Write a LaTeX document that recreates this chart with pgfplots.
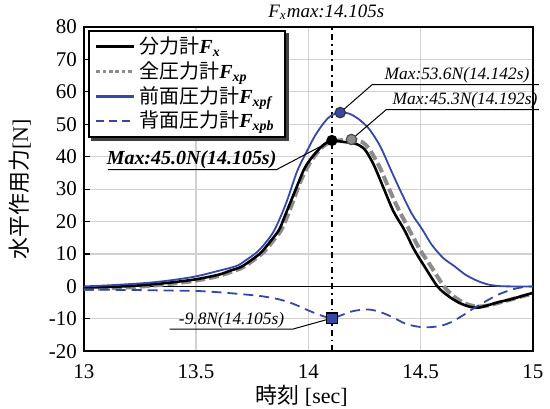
\documentclass[border=0pt]{standalone}
\usepackage{fontspec}
\setmainfont{Liberation Serif}
\newfontfamily\jp{Noto Sans CJK JP}
\usepackage{pgfplots}
\pgfplotsset{compat=1.18}
\definecolor{bl}{RGB}{52,72,168}
\definecolor{gr}{RGB}{140,140,140}
\newcommand\F[1]{\textbf{\textit{F}}\textsubscript{\textbf{\textit{#1}}}}
\newcommand\legtxt[1]{\makebox[68pt][l]{#1}}
\begin{document}
\begin{tikzpicture}
\begin{axis}[
 scale only axis, width=225pt, height=162.5pt,
 xmin=13, xmax=15, ymin=-20, ymax=80,
 xtick={13,13.5,14,14.5,15}, ytick={-20,-10,...,80},
 grid=major, major grid style={draw=black!18, line width=0.6pt},
 axis line style={line width=1.1pt},
 tick style={black, line width=0.6pt}, tick align=inside, major tick length=3pt,
 xtick style={draw=none}, ytick pos=left,
 ticklabel style={font=\fontsize{10.5}{12}\selectfont},
 /pgf/number format/assume math mode=true,
 xticklabel style={yshift=-3pt},
 xlabel={{\jp 時刻} [sec]},
 ylabel={{\jp 水平作用力}[N]},
 xlabel style={at={(axis description cs:0.485,-0.137)}, anchor=center, inner sep=0pt},
 ylabel style={at={(axis description cs:-0.142,0.5)}, anchor=center, inner sep=0pt},
 label style={font=\fontsize{11}{13}\selectfont},
 clip=false,
 legend cell align=left,
 legend style={name=leg, at={(rel axis cs:0,1)}, anchor=north west, xshift=2pt, yshift=-1.5pt,
   draw=black, line width=0.9pt, fill=white, inner xsep=3pt, inner ysep=1pt, row sep=-1.5pt,
   font=\fontsize{10}{12}\selectfont},
 legend image code/.code={\draw[#1] (0pt,0pt) -- (19pt,0pt);},
]
% legend entries
\addlegendimage{black, line width=1.3pt}
\addlegendentry{\legtxt{{\jp 分力計}\F{x}}}
\addlegendimage{gr, line width=1.5pt, dash pattern=on 1.8pt off 1.4pt}
\addlegendentry{\legtxt{{\jp 全圧力計}\F{xp}}}
\addlegendimage{bl, line width=1.3pt}
\addlegendentry{\legtxt{{\jp 前面圧力計}\F{xpf}}}
\addlegendimage{bl, line width=1.3pt, dash pattern=on 4pt off 2.5pt}
\addlegendentry{\legtxt{{\jp 背面圧力計}\F{xpb}}}

% zero line and Fx max line
\addplot[black, line width=0.6pt, forget plot] coordinates {(13,0) (15,0)};
\addplot[black, line width=0.6pt, dash pattern=on 3pt off 2pt on 0.8pt off 2pt, forget plot] coordinates {(14.105,-20) (14.105,80)};

% Fxp (total pressure)
\addplot[gr, line width=2pt, dash pattern=on 5pt off 2pt, forget plot, smooth] coordinates {
(13.00,-0.8) (13.10,-0.6) (13.20,-0.3) (13.30,0.2) (13.40,0.9) (13.50,1.8) (13.60,3.2)
(13.70,5.6) (13.75,7.8) (13.80,10.5) (13.84,13.8) (13.88,17.5) (13.92,24.0) (13.96,31.5)
(13.99,36.0) (14.02,39.5) (14.06,42.8) (14.10,44.6) (14.15,45.1) (14.192,45.3) (14.24,44.5)
(14.27,42.5) (14.30,39.0) (14.323,36.0) (14.36,30.0) (14.40,24.0) (14.449,17.5) (14.50,11.0)
(14.545,6.3) (14.604,0.0) (14.65,-3.2) (14.70,-5.3) (14.75,-6.2) (14.80,-5.9) (14.85,-5.0)
(14.90,-4.1) (14.95,-3.1) (15.00,-2.3)};

% Fx
\addplot[black, line width=1.3pt, forget plot, smooth] coordinates {
(13.00,-0.3) (13.10,-0.2) (13.20,0.1) (13.30,0.6) (13.40,1.3) (13.50,2.2) (13.60,3.6)
(13.65,4.8) (13.70,6.0) (13.75,8.3) (13.79,10.5) (13.83,13.8) (13.87,17.5) (13.90,22.5)
(13.95,31.0) (13.98,36.0) (14.00,38.3) (14.03,41.0) (14.07,43.8) (14.105,45.0) (14.15,44.6)
(14.21,44.0) (14.25,42.3) (14.28,39.0) (14.301,36.0) (14.34,29.5) (14.38,23.0) (14.427,17.5)
(14.47,11.5) (14.516,6.3) (14.575,0.0) (14.62,-2.8) (14.67,-5.0) (14.72,-6.3) (14.76,-6.5)
(14.80,-5.8) (14.85,-4.8) (14.90,-4.0) (14.95,-3.0) (15.00,-2.0)};

% Fxpf
\addplot[bl, line width=0.9pt, forget plot, smooth] coordinates {
(13.00,0.0) (13.10,0.3) (13.20,0.7) (13.30,1.2) (13.40,2.0) (13.50,3.1) (13.60,4.8)
(13.68,6.3) (13.72,8.0) (13.77,10.5) (13.81,13.5) (13.85,17.5) (13.90,25.5) (13.95,35.5)
(13.99,41.2) (14.03,46.5) (14.07,50.5) (14.10,52.6) (14.142,53.6) (14.18,53.3) (14.22,51.8)
(14.27,48.6) (14.32,43.2) (14.367,36.0) (14.41,29.5) (14.46,22.5) (14.508,17.5) (14.55,12.8)
(14.60,8.8) (14.649,6.3) (14.70,3.6) (14.75,1.8) (14.80,0.6) (14.85,0.1) (14.90,0.0) (15.00,0.0)};

% Fxpb
\addplot[bl, line width=0.9pt, dash pattern=on 5pt off 3pt, forget plot, smooth] coordinates {
(13.00,-1.0) (13.20,-1.1) (13.40,-1.3) (13.50,-1.4) (13.60,-1.8) (13.72,-2.5) (13.80,-3.1)
(13.87,-4.0) (13.93,-5.3) (13.99,-7.1) (14.05,-8.8) (14.105,-9.8) (14.15,-8.8) (14.20,-7.6)
(14.26,-7.1) (14.30,-7.5) (14.35,-8.7) (14.40,-10.4) (14.44,-11.7) (14.51,-12.6) (14.58,-12.3)
(14.63,-11.2) (14.68,-9.3) (14.74,-6.6) (14.80,-4.2) (14.85,-2.4) (14.91,-0.9) (14.96,-0.2) (15.00,0.0)};

% leader lines
\draw[black, line width=0.5pt] (axis cs:14.142,53.6) -- (axis cs:14.284,62.2) -- (axis cs:15.027,62.2);
\draw[black, line width=0.5pt] (axis cs:14.192,45.3) -- (axis cs:14.347,54.5) -- (axis cs:15.027,54.5);
\draw[black, line width=0.5pt] (axis cs:14.105,45.0) -- (axis cs:13.858,36.0) -- (axis cs:13.107,36.0);
\draw[black, line width=0.5pt] (axis cs:14.105,-9.8) -- (axis cs:13.929,-13.2) -- (axis cs:13.382,-13.2);

% markers
\addplot[only marks, mark=*, mark size=2.6pt, mark options={fill=bl, draw=black!80, line width=0.6pt}, forget plot] coordinates {(14.142,53.6)};
\addplot[only marks, mark=*, mark size=2.6pt, mark options={fill=black!45, draw=black!70, line width=0.6pt}, forget plot] coordinates {(14.192,45.3)};
\addplot[only marks, mark=*, mark size=2.6pt, mark options={fill=black, draw=black}, forget plot] coordinates {(14.105,45.0)};
\addplot[only marks, mark=square*, mark size=2.6pt, mark options={fill=bl, draw=black, line width=0.6pt}, forget plot] coordinates {(14.105,-9.8)};

% annotation texts
\node[anchor=base, font=\fontsize{8.7}{10}\selectfont\itshape] at (axis cs:14.662,63.8) {Max:53.6N(14.142s)};
\node[anchor=base, font=\fontsize{8.7}{10}\selectfont\itshape] at (axis cs:14.698,56.1) {Max:45.3N(14.192s)};
\node[anchor=base, font=\fontsize{10}{12}\selectfont\bfseries\itshape] at (axis cs:13.48,37.6) {Max:45.0N(14.105s)};
\node[anchor=base, font=\fontsize{8.7}{10}\selectfont\itshape] at (axis cs:13.658,-11.6) {-9.8N(14.105s)};
\node[anchor=base, inner sep=0pt, font=\fontsize{9.5}{11}\selectfont\itshape] at (axis cs:14.08,83.0) {\textit{F}\textsubscript{\textit{x}}max:14.105s};

% bounding box
\path (rel axis cs:0,0) ++(-42pt,-28.5pt) coordinate (bbA);
\path (rel axis cs:1,1) ++(8pt,13.5pt) coordinate (bbB);
\path (bbA) rectangle (bbB);
\end{axis}
% legend shadow (right and bottom strips)
\fill[black!75] ([yshift=-1.6pt]leg.north east) rectangle ([xshift=1.6pt,yshift=-1.6pt]leg.south east);
\fill[black!75] ([xshift=1.6pt]leg.south west) rectangle ([xshift=1.6pt,yshift=-1.6pt]leg.south east);
\end{tikzpicture}
\end{document}
